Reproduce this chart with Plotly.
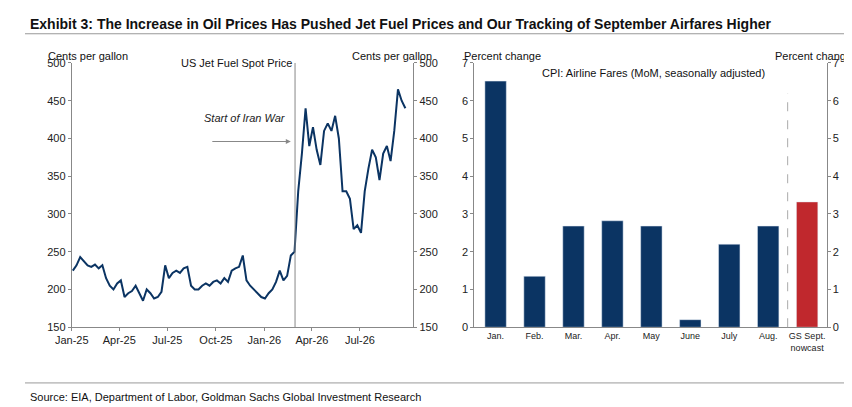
import pandas as pd
import plotly.graph_objects as go

# US jet fuel spot price, weekly, cents per gallon
fuel_2025 = [225, 232, 243, 238, 232, 230, 233, 228, 232, 215, 205, 200, 208,
             212, 190, 195, 198, 205, 195, 185, 200, 195, 188, 190, 197, 232,
             215, 222, 225, 222, 228, 230, 205, 200, 200, 205, 208, 205, 210,
             212, 208, 215, 210, 225, 228, 230, 245, 212, 205, 200, 195, 190]
fuel_2026 = [188, 195, 200, 210, 225, 212, 218, 245, 250, 330, 380, 440, 390,
             415, 385, 365, 410, 420, 410, 430, 400, 330, 330, 320, 280, 285,
             275, 330, 360, 385, 375, 345, 380, 390, 370, 410, 465, 450, 440]
fuel_dates = list(pd.date_range("2025-01-03", periods=len(fuel_2025), freq="7D")) + \
    list(pd.date_range("2026-01-02", periods=len(fuel_2026), freq="7D"))
fuel = fuel_2025 + fuel_2026

months = ["Jan.", "Feb.", "Mar.", "Apr.", "May", "June", "July", "Aug.", "GS Sept.<br>nowcast"]
fares = [6.52, 1.35, 2.68, 2.82, 2.68, 0.2, 2.2, 2.68, 3.32]
bar_colors = ["#0b3463"] * 8 + ["#c0282d"]

navy = "#0b3463"
grey = "#888888"
fnt = dict(family="Arial, Liberation Sans", size=11, color="#222")

fig = go.Figure()
fig.add_trace(go.Scatter(x=fuel_dates, y=fuel, mode="lines", line=dict(color=navy, width=2),
                         xaxis="x", yaxis="y", showlegend=False))
fig.add_trace(go.Bar(x=months, y=fares, marker_color=bar_colors, width=0.55,
                     xaxis="x2", yaxis="y3", showlegend=False))

ydom = [0.207, 0.876]
axline = dict(showline=True, linecolor=grey, ticks="outside", ticklen=3, tickcolor=grey,
              showgrid=False, zeroline=False, tickfont=fnt)
fig.update_layout(
    width=852, height=407, margin=dict(l=0, r=0, t=0, b=0),
    paper_bgcolor="white", plot_bgcolor="white", font=fnt,
    xaxis=dict(domain=[0.056, 0.465], anchor="y", type="date",
               range=["2025-01-01", "2026-10-10"],
               tickvals=["2025-01-01", "2025-04-01", "2025-07-01", "2025-10-01",
                         "2026-01-01", "2026-04-01", "2026-07-01"],
               tickformat="%b-%y", **axline),
    yaxis=dict(domain=ydom, anchor="x", range=[150, 500], dtick=50, **axline),
    yaxis2=dict(domain=ydom, anchor="x", overlaying="y", side="right",
                range=[150, 500], dtick=50, **axline),
    xaxis2=dict(domain=[0.538, 0.960], anchor="y3", tickfont=dict(size=9, color="#222"),
                showline=True, linecolor=grey, ticks="", showgrid=False),
    yaxis3=dict(domain=ydom, anchor="x2", range=[0, 7], dtick=1, **axline),
    yaxis4=dict(domain=ydom, anchor="x2", overlaying="y3", side="right",
                range=[0, 7], dtick=1, **axline),
)
# dummy traces so the right-hand axes show
fig.add_trace(go.Scatter(x=[fuel_dates[0]], y=[None], xaxis="x", yaxis="y2", showlegend=False))
fig.add_trace(go.Scatter(x=[months[0]], y=[None], xaxis="x2", yaxis="y4", showlegend=False))

fig.add_shape(type="line", xref="x", yref="paper", x0="2026-02-28", x1="2026-02-28",
              y0=ydom[0], y1=ydom[1], line=dict(color=grey, width=1))
fig.add_shape(type="line", xref="x2", yref="paper", x0=7.5, x1=7.5,
              y0=ydom[0], y1=0.8, line=dict(color="#aaa", width=1, dash="dash"))
fig.add_annotation(xref="x", yref="y", x="2026-02-20", y=396, ax=-80, ay=0,
                   showarrow=True, arrowhead=2, arrowcolor=grey, arrowwidth=1, text="")
fig.add_annotation(xref="x", yref="y", x="2025-11-25", y=427, showarrow=False,
                   text="<i>Start of Iran War</i>", font=dict(size=11, color="#222"))

texts = [
    (0.004, 1.0, "<b>Exhibit 3: The Increase in Oil Prices Has Pushed Jet Fuel Prices and Our Tracking of September Airfares Higher</b>", 14, "left"),
    (0.025, 0.915, "Cents per gallon", 11, "left"),
    (0.49, 0.915, "Cents per gallon", 11, "right"),
    (0.185, 0.895, "US Jet Fuel Spot Price", 11, "left"),
    (0.523, 0.915, "Percent change", 11, "left"),
    (0.993, 0.915, "Percent change", 11, "right"),
    (0.617, 0.87, "CPI: Airline Fares (MoM, seasonally adjusted)", 11, "left"),
    (0.004, 0.05, "Source: EIA, Department of Labor, Goldman Sachs Global Investment Research", 11, "left"),
]
for x, y, t, s, al in texts:
    fig.add_annotation(xref="paper", yref="paper", x=x, y=y, text=t, showarrow=False,
                       xanchor=al, yanchor="top", font=dict(size=s, color="#111"))

fig.add_shape(type="line", xref="paper", yref="paper", x0=0, x1=1, y0=0.95, y1=0.95,
              line=dict(color="#999", width=1))
fig.add_shape(type="line", xref="paper", yref="paper", x0=0, x1=1, y0=0.066, y1=0.066,
              line=dict(color="#999", width=1))

fig.write_html("out.html")
